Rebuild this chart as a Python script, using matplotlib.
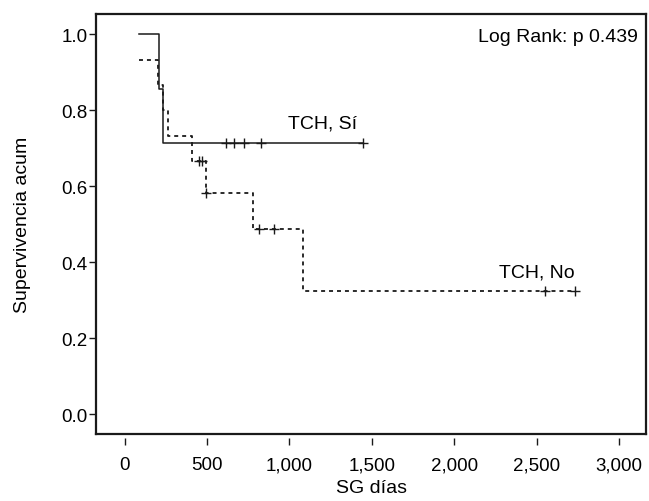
import matplotlib
matplotlib.use("Agg")
import matplotlib.pyplot as plt

plt.rcParams["font.family"] = ["Liberation Sans", "DejaVu Sans"]

# TCH, Sí (solid) - Kaplan-Meier steps
si_time = [88, 209, 235, 1444]
si_surv = [1.0, 0.857, 0.714, 0.714]
si_cens_time = [613, 664, 724, 825, 1444]
si_cens_surv = [0.714, 0.714, 0.714, 0.714, 0.714]

# TCH, No (dashed)
no_time = [88, 205, 233, 265, 407, 492, 781, 1084, 2730]
no_surv = [0.933, 0.867, 0.800, 0.733, 0.667, 0.583, 0.486, 0.324, 0.324]
no_cens_time = [451, 472, 492, 815, 908, 2548, 2730]
no_cens_surv = [0.667, 0.667, 0.583, 0.486, 0.486, 0.324, 0.324]

xticks = [0, 500, 1000, 1500, 2000, 2500, 3000]
xticklabels = ["0", "500", "1,000", "1,500", "2,000", "2,500", "3,000"]
yticks = [0.0, 0.2, 0.4, 0.6, 0.8, 1.0]

fig = plt.figure(figsize=(6.49, 5.02), dpi=100)
ax = fig.add_axes([0.148, 0.133, 0.848, 0.837])

ax.step(si_time, si_surv, where="post", color="#1a1a1a", lw=1.1)
ax.plot(si_cens_time, si_cens_surv, "+", color="#1a1a1a", ms=7, mew=1.0)

ax.step(no_time, no_surv, where="post", color="#1a1a1a", lw=1.3,
        linestyle=(0, (2.2, 2.2)))
ax.plot(no_cens_time, no_cens_surv, "+", color="#1a1a1a", ms=7, mew=1.0)

ax.set_xlim(-173, 3165)
ax.set_ylim(-0.053, 1.053)

ax.set_xticks(xticks)
ax.set_xticklabels(xticklabels)
ax.set_yticks(yticks)
ax.set_yticklabels([f"{v:.1f}" for v in yticks])
ax.tick_params(axis="both", labelsize=13.5, color="#1a1a1a", width=1.0)
ax.tick_params(axis="y", length=5, pad=1)
ax.tick_params(axis="x", length=5, pad=8)

# box with x ticks slightly detached from the bottom edge
for side in ["left", "top", "right"]:
    ax.spines[side].set_linewidth(1.6)
    ax.spines[side].set_color("#1a1a1a")
ax.spines["bottom"].set_position(("outward", 3))
ax.spines["bottom"].set_color("none")
ax.plot([0, 1], [0, 0], transform=ax.transAxes, color="#1a1a1a", lw=1.6,
        clip_on=False, solid_capstyle="projecting")

ax.set_xlabel("SG días", fontsize=14, labelpad=4)
ax.set_ylabel("Supervivencia acum", fontsize=14, labelpad=22)

ax.text(1200, 0.765, "TCH, Sí", fontsize=14, ha="center", va="center")
ax.text(2500, 0.373, "TCH, No", fontsize=14, ha="center", va="center")
ax.text(0.985, 0.947, "Log Rank: p 0.439", fontsize=14, ha="right", va="center",
        transform=ax.transAxes)

fig.savefig("out.png", dpi=100)
